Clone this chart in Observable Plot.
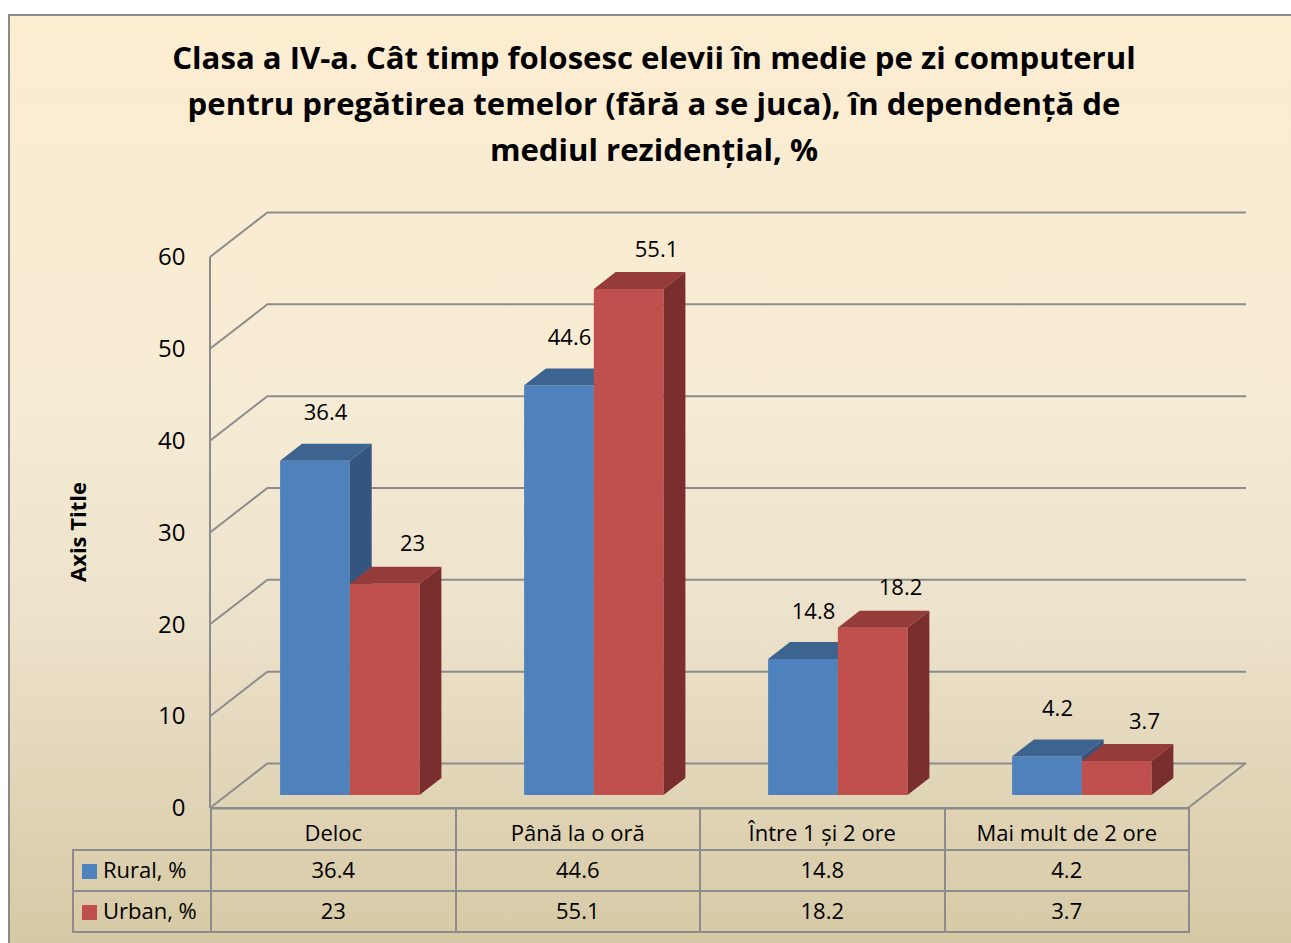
<!DOCTYPE html>
<html><head><meta charset="utf-8">
<script src="https://cdn.jsdelivr.net/npm/d3@7"></script>
<script src="https://cdn.jsdelivr.net/npm/@observablehq/plot@0.6"></script>
<style>
html,body{margin:0;padding:0;width:1291px;height:943px;overflow:hidden;background:#fff;font-family:"Open Sans",sans-serif;}
#frame{position:absolute;left:8px;top:14px;width:1300px;height:960px;border:2px solid #8a8a8a;box-sizing:border-box;
  background:linear-gradient(to bottom,#FDEDD1 0%,#F6EBD4 40%,#EDE3CC 62%,#D4C7A2 100%);}
#title{position:absolute;left:0;top:34px;width:1308px;text-align:center;font-weight:700;line-height:46px;color:#000;white-space:nowrap;}
#ytitle{position:absolute;left:77px;top:532px;transform:translate(-50%,-50%) rotate(-90deg);font-weight:700;font-size:22px;white-space:nowrap;}
#chart{position:absolute;left:0;top:200px;}
#chart svg [aria-label^="y-axis"] text{font-size:24px;}
#table{position:absolute;left:72px;top:807px;border-collapse:collapse;font-size:22px;color:#000;table-layout:fixed;}
#table td{border:2px solid #8c8c8c;text-align:center;padding:0;line-height:normal;}
#table tr.head td{padding-top:6px;}
#table tr.data td{padding-bottom:4px;}
#table td.empty{border:none;}
#table td.leg{text-align:left;padding-left:8px;white-space:nowrap;}
.key{display:inline-block;width:15px;height:15px;margin-right:6px;vertical-align:-1px;}
</style></head>
<body>
<div id="frame"></div>
<div id="title"></div>
<div id="ytitle">Axis Title</div>
<div id="chart"></div>
<table id="table"></table>
<script>
const titleLines = ["Clasa a IV-a. Cât timp folosesc elevii în medie pe zi computerul",
  "pentru pregătirea temelor (fără a se juca), în dependență de",
  "mediul rezidențial, %"];
const categories = ["Deloc", "Până la o oră", "Între 1 și 2 ore", "Mai mult de 2 ore"];
const seriesNames = ["Rural, %", "Urban, %"];
const rural = [36.4, 44.6, 14.8, 4.2];
const urban = [23, 55.1, 18.2, 3.7];
const yTicks = [0, 10, 20, 30, 40, 50, 60];

const seriesValues = [rural, urban];
const frontColors = ["#4F81BD", "#C0504D"];
const topColors = ["#3D6491", "#953B39"];
const sideColors = ["#34557F", "#7B2E2E"];
const gridColor = "#8c8c8c";
const DEPTH = [58, -45];      // full wall depth in px
const F0 = 0.29, F1 = 0.667;  // bar front / back depth fractions

// Title
const titleEl = document.getElementById("title");
titleEl.innerHTML = titleLines.map(l => `<div><span>${l}</span></div>`).join("");
titleEl.style.fontSize = "30px";
const w0 = titleEl.querySelector("span").getBoundingClientRect().width;
titleEl.style.fontSize = (30 * 964 / w0).toFixed(2) + "px";

// data rows
const rows = [];
categories.forEach((c, i) => seriesNames.forEach((s, j) => rows.push({category: c, series: j, value: seriesValues[j][i]})));

function scene(index, scales, values, dimensions) {
  const {x, y} = scales;
  const ns = "http://www.w3.org/2000/svg";
  const g = d3.select(document.createElementNS(ns, "g"));
  const L = dimensions.marginLeft, R = dimensions.width - dimensions.marginRight;
  const P = (px, py, f) => [px + f * DEPTH[0], py + f * DEPTH[1]];
  const line = (a, b) => g.append("line").attr("x1", a[0]).attr("y1", a[1]).attr("x2", b[0]).attr("y2", b[1])
    .attr("stroke", gridColor).attr("stroke-width", 2);
  // left wall
  line([L, y(0)], [L, y(60)]);
  yTicks.forEach(t => line([L, y(t)], P(L, y(t), 1)));
  // floor right edge
  line([R, y(0)], P(R, y(0), 1));
  // bars
  const bw = x.bandwidth() / 3.5;
  const poly = (pts, fill) => g.append("polygon").attr("points", pts.map(p => p.join(",")).join(" ")).attr("fill", fill);
  for (const d of rows) {
    const l = x(d.category) + bw * 0.75 + d.series * bw, r = l + bw;
    const y0 = y(0), yv = y(d.value);
    poly([P(l, yv, F0), P(r, yv, F0), P(r, y0, F0), P(l, y0, F0)], frontColors[d.series]);
    poly([P(l, yv, F0), P(r, yv, F0), P(r, yv, F1), P(l, yv, F1)], topColors[d.series]);
    poly([P(r, yv, F0), P(r, y0, F0), P(r, y0, F1), P(r, yv, F1)], sideColors[d.series]);
  }
  return g.node();
}

const chart = Plot.plot({
  width: 1291, height: 620,
  marginLeft: 210, marginRight: 103, marginTop: 57, marginBottom: 12,
  style: {background: "transparent", fontFamily: "Open Sans, sans-serif", fontSize: "22px", color: "#000", overflow: "visible"},
  x: {type: "band", domain: categories, padding: 0, axis: null},
  y: {domain: [0, 60], ticks: yTicks, tickSize: 0, tickPadding: 25, label: null},
  marks: [
    Plot.ruleY(yTicks, {dx: DEPTH[0], dy: DEPTH[1], stroke: gridColor, strokeWidth: 2, strokeOpacity: 1}),
    Plot.ruleY([0], {stroke: gridColor, strokeWidth: 2, strokeOpacity: 1}),
    scene,
    Plot.text(rows.filter(d => d.series === 0), {x: "category", y: "value", text: d => String(d.value), dx: -8, dy: -61, fill: "#000"}),
    Plot.text(rows.filter(d => d.series === 1), {x: "category", y: "value", text: d => String(d.value), dx: 79, dy: -53, fill: "#000"})
  ]
});
document.getElementById("chart").appendChild(chart);

// data table
const bandW = (1188 - 210) / categories.length;
let html = `<colgroup><col style="width:138px">${categories.map(() => `<col style="width:${bandW}px">`).join("")}</colgroup>`;
html += `<tr class="head" style="height:42px"><td class="empty"></td>${categories.map(c => `<td>${c}</td>`).join("")}</tr>`;
seriesNames.forEach((s, j) => {
  html += `<tr class="data" style="height:41px"><td class="leg"><span class="key" style="background:${frontColors[j]}"></span>${s}</td>${seriesValues[j].map(v => `<td>${v}</td>`).join("")}</tr>`;
});
document.getElementById("table").innerHTML = html;
</script>
</body></html>
